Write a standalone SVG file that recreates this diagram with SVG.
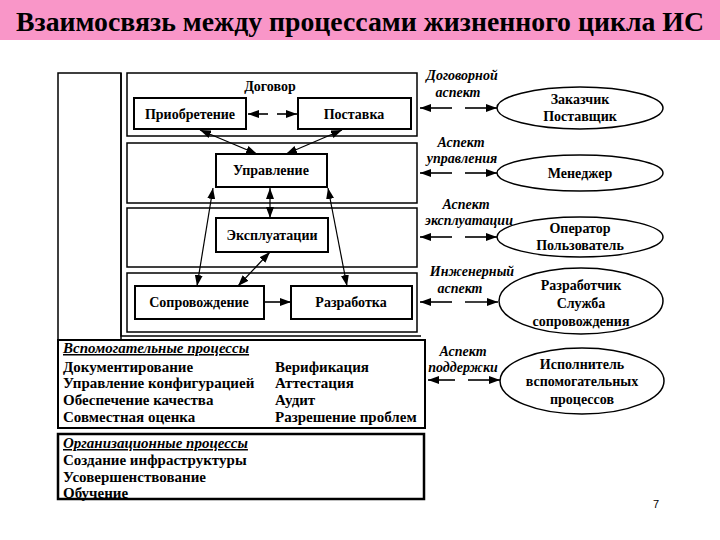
<svg xmlns="http://www.w3.org/2000/svg" width="720" height="540" viewBox="0 0 720 540">
<defs>
<marker id="ah" markerUnits="userSpaceOnUse" markerWidth="11" markerHeight="8" refX="11" refY="4" orient="auto-start-reverse"><path d="M0,0 L11,4 L0,8 z" fill="#000"/></marker>
<style>
.t{font-family:'Liberation Serif','DejaVu Serif',serif;font-weight:bold;fill:#000}
.bx{fill:#fff;stroke:#000;stroke-width:2}
.band{fill:none;stroke:#000;stroke-width:1.5}
.fr{fill:none;stroke:#000;stroke-width:1.5}
.c{stroke:#000;stroke-width:1.2;fill:none}
.d{stroke:#000;stroke-width:1.6;fill:none}
.it{font-family:'Liberation Serif','DejaVu Serif',serif;font-weight:bold;font-style:italic;font-size:14px;fill:#000}
.el{fill:#fff;stroke:#000;stroke-width:1.5}
</style>
</defs>
<rect x="0" y="0" width="720" height="540" fill="#fff"/>
<g id="title">
<rect x="0" y="0" width="720" height="40" fill="#f996c8"/>
<text class="t" x="360" y="31" font-size="28" text-anchor="middle" textLength="688" lengthAdjust="spacingAndGlyphs" fill="#150008">Взаимосвязь между процессами жизненного цикла ИС</text>
</g>
<g id="frame">
<rect class="fr" x="58" y="73" width="63" height="267"/>
<path class="fr" d="M121,73 V336 H421"/>
</g>
<g id="band-contract">
<rect class="band" x="127" y="73" width="290" height="63"/>
<text class="t" x="270" y="91" font-size="14" text-anchor="middle">Договор</text>
</g>
<g id="band-management"><rect class="band" x="127" y="143" width="290" height="60"/></g>
<g id="band-operation"><rect class="band" x="127" y="208" width="290" height="59"/></g>
<g id="band-engineering"><rect class="band" x="127" y="273" width="290" height="59"/></g>
<g id="acquisition"><rect class="bx" x="134" y="98" width="112" height="31"/><text class="t" x="190" y="119" font-size="14" text-anchor="middle">Приобретение</text></g>
<g id="supply"><rect class="bx" x="298" y="98" width="113" height="31"/><text class="t" x="354" y="119" font-size="14" text-anchor="middle">Поставка</text></g>
<g id="management"><rect class="bx" x="216" y="154" width="111" height="33"/><text class="t" x="271" y="175" font-size="14" text-anchor="middle">Управление</text></g>
<g id="operation"><rect class="bx" x="216" y="218" width="112" height="34"/><text class="t" x="272" y="240" font-size="14" text-anchor="middle">Эксплуатации</text></g>
<g id="maintenance"><rect class="bx" x="135" y="286" width="129" height="33"/><text class="t" x="199" y="307" font-size="14" text-anchor="middle">Сопровождение</text></g>
<g id="development"><rect class="bx" x="291" y="286" width="121" height="33"/><text class="t" x="351" y="307" font-size="14" text-anchor="middle">Разработка</text></g>
<g id="connectors">
<line class="d" x1="268" y1="114" x2="248" y2="114" marker-end="url(#ah)"/>
<line class="d" x1="277" y1="114" x2="297" y2="114" marker-end="url(#ah)"/>
<line class="c" x1="200" y1="130" x2="257" y2="154" marker-start="url(#ah)" marker-end="url(#ah)"/>
<line class="c" x1="342" y1="130" x2="286" y2="154" marker-start="url(#ah)" marker-end="url(#ah)"/>
<line class="c" x1="213" y1="188" x2="197" y2="286" marker-start="url(#ah)" marker-end="url(#ah)"/>
<line class="c" x1="270" y1="188" x2="270" y2="218" marker-start="url(#ah)" marker-end="url(#ah)"/>
<line class="c" x1="328" y1="188" x2="347" y2="286" marker-start="url(#ah)" marker-end="url(#ah)"/>
<line class="c" x1="270" y1="252" x2="238" y2="286" marker-start="url(#ah)" marker-end="url(#ah)"/>
<line class="d" x1="264" y1="302" x2="291" y2="302" marker-end="url(#ah)"/>
<line class="d" x1="452" y1="108" x2="420" y2="108" marker-end="url(#ah)"/>
<line class="d" x1="465" y1="108" x2="497" y2="108" marker-end="url(#ah)"/>
<line class="d" x1="452" y1="173" x2="420" y2="173" marker-end="url(#ah)"/>
<line class="d" x1="465" y1="173" x2="497" y2="173" marker-end="url(#ah)"/>
<line class="d" x1="452" y1="237" x2="420" y2="237" marker-end="url(#ah)"/>
<line class="d" x1="465" y1="237" x2="497" y2="237" marker-end="url(#ah)"/>
<line class="d" x1="452" y1="302" x2="420" y2="302" marker-end="url(#ah)"/>
<line class="d" x1="465" y1="302" x2="498" y2="302" marker-end="url(#ah)"/>
<line class="d" x1="455" y1="380" x2="428" y2="380" marker-end="url(#ah)"/>
<line class="d" x1="468" y1="380" x2="500" y2="380" marker-end="url(#ah)"/>
</g>
<g id="aspect-labels">
<text class="it" x="462" y="80" text-anchor="middle">Договорной</text>
<text class="it" x="458" y="97" text-anchor="middle">аспект</text>
<text class="it" x="461" y="147" text-anchor="middle">Аспект</text>
<text class="it" x="462" y="163" text-anchor="middle">управления</text>
<text class="it" x="466" y="209" text-anchor="middle">Аспект</text>
<text class="it" x="469" y="225" text-anchor="middle">эксплуатации</text>
<text class="it" x="472" y="276" text-anchor="middle">Инженерный</text>
<text class="it" x="460" y="293" text-anchor="middle">аспект</text>
<text class="it" x="463" y="356" text-anchor="middle">Аспект</text>
<text class="it" x="463" y="372" text-anchor="middle">поддержки</text>
</g>
<g id="customer"><ellipse class="el" cx="580" cy="108" rx="83" ry="21"/><text class="t" x="580" y="104" font-size="14" text-anchor="middle">Заказчик</text><text class="t" x="580" y="121" font-size="14" text-anchor="middle">Поставщик</text></g>
<g id="manager"><ellipse class="el" cx="580" cy="173" rx="83" ry="18"/><text class="t" x="580" y="178" font-size="14" text-anchor="middle">Менеджер</text></g>
<g id="operator"><ellipse class="el" cx="580" cy="237" rx="83" ry="20"/><text class="t" x="580" y="233" font-size="14" text-anchor="middle">Оператор</text><text class="t" x="580" y="250" font-size="14" text-anchor="middle">Пользователь</text></g>
<g id="developer"><ellipse class="el" cx="581" cy="301" rx="82" ry="33"/><text class="t" x="581" y="290" font-size="14" text-anchor="middle">Разработчик</text><text class="t" x="581" y="308" font-size="14" text-anchor="middle">Служба</text><text class="t" x="581" y="326" font-size="14" text-anchor="middle">сопровождения</text></g>
<g id="executor"><ellipse class="el" cx="582" cy="381" rx="82" ry="33"/><text class="t" x="582" y="369" font-size="14" text-anchor="middle">Исполнитель</text><text class="t" x="582" y="386" font-size="14" text-anchor="middle">вспомогательных</text><text class="t" x="582" y="404" font-size="14" text-anchor="middle">процессов</text></g>
<g id="support-processes">
<rect class="bx" x="58" y="340" width="367" height="88" style="fill:none"/>
<text class="t" x="63" y="353" font-size="15" font-style="italic" text-decoration="underline">Вспомогательные процессы</text>
<text class="t" x="63" y="372" font-size="15">Документирование</text>
<text class="t" x="63" y="388" font-size="15">Управление конфигурацией</text>
<text class="t" x="63" y="405" font-size="15">Обеспечение качества</text>
<text class="t" x="63" y="422" font-size="15">Совместная оценка</text>
<text class="t" x="275" y="372" font-size="15">Верификация</text>
<text class="t" x="275" y="388" font-size="15">Аттестация</text>
<text class="t" x="275" y="405" font-size="15">Аудит</text>
<text class="t" x="275" y="422" font-size="15">Разрешение проблем</text>
</g>
<g id="organizational-processes">
<text class="t" x="63" y="448" font-size="15" font-style="italic" text-decoration="underline">Организационные процессы</text>
<text class="t" x="63" y="465" font-size="15">Создание инфраструктуры</text>
<text class="t" x="63" y="482" font-size="15">Усовершенствование</text>
<text class="t" x="63" y="498" font-size="15">Обучение</text>
<rect x="58" y="434" width="366" height="65" fill="none" stroke="#000" stroke-width="2.5"/>
</g>
<text x="656" y="508" font-family="Liberation Sans, Arial, sans-serif" font-size="11" text-anchor="middle" fill="#000">7</text>
</svg>
